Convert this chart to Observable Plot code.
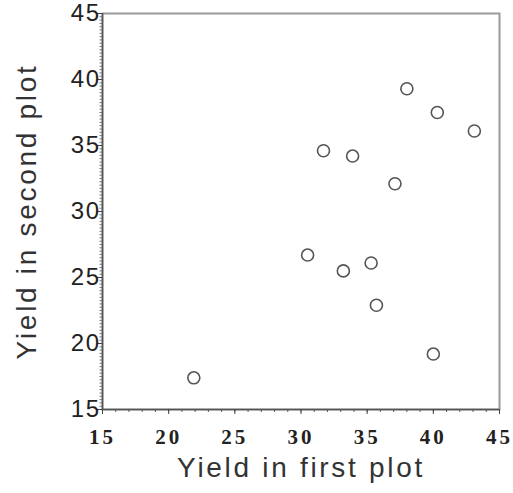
<!DOCTYPE html>
<html>
<head>
<meta charset="utf-8">
<script src="https://cdn.jsdelivr.net/npm/d3@7"></script>
<script src="https://cdn.jsdelivr.net/npm/@observablehq/plot@0.6"></script>
<style>
  html, body { margin: 0; padding: 0; background: #fff; }
  #chart svg { display: block; }
</style>
</head>
<body>
<div id="chart"></div>
<script>
// Data
const firstPlot  = [21.9, 30.5, 31.7, 33.2, 33.9, 35.3, 35.7, 37.1, 38.0, 40.0, 40.3, 43.1];
const secondPlot = [17.4, 26.7, 34.6, 25.5, 34.2, 26.1, 22.9, 32.1, 39.3, 19.2, 37.5, 36.1];
const majorTicks = [15, 20, 25, 30, 35, 40, 45];
const xMinorTicks = d3.range(15, 45.001, 1);
const yMinorTicks = d3.range(15, 45.001, 0.25);
const xTitle = "Yield in first plot";
const yTitle = "Yield in second plot";

const data = firstPlot.map((x, i) => ({x, y: secondPlot[i]}));

const chart = Plot.plot({
  width: 513,
  height: 493,
  marginLeft: 102,
  marginRight: 14,
  marginTop: 13,
  marginBottom: 84,
  x: {domain: [15, 45]},
  y: {domain: [15, 45]},
  style: {background: "#fff"},
  marks: [
    Plot.frame({stroke: "#9a9a9a", strokeWidth: 2}),
    Plot.ruleX([15], {stroke: "#555", strokeWidth: 1.5}),
    Plot.ruleY([15], {stroke: "#555", strokeWidth: 1.5}),
    // minor ticks
    Plot.axisX({ticks: xMinorTicks, tickSize: 3, text: null, stroke: "#555", label: null}),
    Plot.axisY({ticks: yMinorTicks, tickSize: 2.5, text: null, stroke: "#777", label: null}),
    // major ticks
    Plot.axisX({ticks: majorTicks, tickSize: 5, text: null, stroke: "#444", label: null}),
    Plot.axisY({ticks: majorTicks, tickSize: 5, text: null, stroke: "#444", label: null}),
    // tick labels
    Plot.axisX({ticks: majorTicks, tickSize: 0, tickPadding: 20, label: null, fill: "#222"}),
    Plot.axisY({ticks: majorTicks, tickSize: 0, tickPadding: 2, label: null, fill: "#222"}),
    // titles
    Plot.text([xTitle], {frameAnchor: "bottom", dy: 59, fill: "#333", lineAnchor: "middle", textAnchor: "middle"}),
    Plot.text([yTitle], {frameAnchor: "left", dx: -75, rotate: -90, fill: "#333", lineAnchor: "middle", textAnchor: "middle"}),
    // points
    Plot.dot(data, {x: "x", y: "y", r: 6, stroke: "#555", strokeWidth: 1.6, fill: "none"})
  ]
});
document.getElementById("chart").append(chart);

const svg = d3.select(chart);
svg.selectAll('g[aria-label="x-axis tick label"] text')
  .style("font-size", "21px").style("font-family", "Liberation Serif")
  .style("font-weight", "bold").style("letter-spacing", "3px");
svg.selectAll('g[aria-label="y-axis tick label"] text')
  .style("font-size", "24px").style("font-family", "Liberation Sans")
  .style("letter-spacing", "1.5px");
svg.selectAll('g[aria-label="text"] text')
  .style("font-size", "28px").style("font-family", "Liberation Sans")
  .style("letter-spacing", "2.7px");
</script>
</body>
</html>
